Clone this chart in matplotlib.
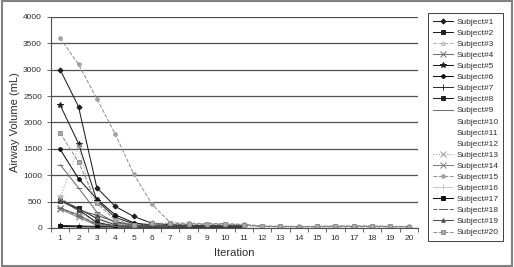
import numpy as np
import matplotlib
import matplotlib.pyplot as plt
from matplotlib.patches import Rectangle

matplotlib.use('agg')
plt.rcParams['font.family'] = ['Liberation Sans', 'DejaVu Sans']

nan = np.nan
iterations = list(range(1, 21))

# airway volume (mL) per subject; nan = no point drawn
s1 = [3000, 2300, 760, 410, 220, 90, 60, 50, 45, 40, 40] + [nan] * 9
s2 = [540, 370, 180, 60, 40, 30, 30, 30, 30, 30, 30] + [nan] * 9
s3 = [600, 300, 120, 50, 30, 25, 25] + [nan] * 13
s4 = [380, 250, 60, 30, 20, 20, 20] + [nan] * 13
s5 = [2330, 1600, 520, 200, 80, 40, 30, 30] + [nan] * 12
s6 = [1490, 935, 545, 250, 100, 50, 40, 40] + [nan] * 12
s7 = [50, 40, 30, 25, 20, 20, 20, 20, 20, 20, 20] + [nan] * 9
s8 = [520, 350, 100, 40, 30, 30, 25, 25] + [nan] * 12
s9 = [1200, 760, 300, 100, 50, 40, 40] + [nan] * 13
s10 = [nan] * 20
s11 = [nan] * 20
s12 = [nan] * 20
s13 = [560, 1550, 200, 60, 40, 30, 30] + [nan] * 13
s14 = [360, 200, 50, 30, 20, 20, 20, 20] + [nan] * 12
s15 = [3600, 3100, 2450, 1780, 1030, 450, 100, 90, 85, 80, 70,
       40, 35, 30, 30, 40, 40, 40, 30, 30]
s16 = [20, 15, 10, 10, 10, 10, 10, 10, 10, 10, 10] + [nan] * 9
s17 = [30, 25, 20, 20, 15, 15, 15, 15, 15, 15, 15] + [nan] * 9
s18 = [380, 230, 80, 40, 30, 60, 60, 60, 60, 60, 50,
       30, 25, 25, 25, 25, 25, 25, 25, 25]
s19 = [520, 340, 240, 120, 60, 40, 40, 40, 40, 40, 40] + [nan] * 9
s20 = [1800, 1250, 470, 150, 60, 90, 90, 80, 80, 80, 60,
       30, 30, 25, 30, 35, 35, 35, 30, 25]

subjects = [s1, s2, s3, s4, s5, s6, s7, s8, s9, s10,
            s11, s12, s13, s14, s15, s16, s17, s18, s19, s20]
labels = [f'Subject#{i}' for i in range(1, 21)]

# (color, linestyle, marker, markerfacecolor)
styles = [
    ('#202020', '-', 'D', '#202020'),
    ('#202020', '-', 's', '#202020'),
    ('#b0b0b0', '--', '^', 'white'),
    ('#707070', '-', 'x', '#707070'),
    ('#202020', '-', '*', '#202020'),
    ('#101010', '-', 'o', '#101010'),
    ('#303030', '-', '|', '#303030'),
    ('#202020', '-', 's', '#202020'),
    ('#707070', '-', '_', '#707070'),
    ('white', 'none', 'none', 'white'),
    ('white', 'none', 'none', 'white'),
    ('white', 'none', 'none', 'white'),
    ('#a0a0a0', ':', 'x', '#a0a0a0'),
    ('#808080', '-', 'x', '#808080'),
    ('#909090', '--', 'o', '#a0a0a0'),
    ('#c8c8c8', '-', '|', '#c8c8c8'),
    ('#101010', '-', 's', '#101010'),
    ('#606060', '--', '_', '#606060'),
    ('#505050', '-', '^', '#505050'),
    ('#909090', '--', 's', '#a8a8a8'),
]

fig = plt.figure(figsize=(5.14, 2.67), dpi=100)
ax = fig.add_axes([51 / 514, 1 - 228 / 267, 367 / 514, 211 / 267])

for vals, lab, (c, ls, m, mfc) in zip(subjects, labels, styles):
    msize = 4 if m in ('*', 'x', '|', '_') else 2.6
    ax.plot(iterations, vals, color=c, linestyle=ls, linewidth=0.75,
            marker=m, markersize=msize, markerfacecolor=mfc,
            markeredgecolor=c if m != 'o' else mfc, markeredgewidth=0.7,
            label=lab)

ax.set_xlim(0.5, 20.5)
ax.set_ylim(0, 4000)
ax.set_yticks(range(0, 4001, 500))
ax.set_xticks(iterations)
ax.set_xticks(np.arange(0.5, 21, 1), minor=True)
ax.tick_params(axis='x', which='major', length=0, labelsize=6, pad=5,
               labelcolor='#303030')
ax.tick_params(axis='x', which='minor', length=3, width=0.6, color='#505050')
ax.tick_params(axis='y', length=3, width=0.6, labelsize=6, color='#505050',
               labelcolor='#303030')
ax.yaxis.grid(True, color='#505050', linewidth=0.9)
ax.set_axisbelow(True)
for side in ('top', 'right'):
    ax.spines[side].set_visible(False)
for side in ('left', 'bottom'):
    ax.spines[side].set_color('#505050')
    ax.spines[side].set_linewidth(0.8)

ax.set_xlabel('Iteration', fontsize=8, labelpad=4, color='#303030')
ax.set_ylabel('Airway Volume (mL)', fontsize=8, labelpad=2, color='#303030')

leg = ax.legend(loc='upper left', bbox_to_anchor=(428 / 514, 1 - 13 / 267),
                bbox_transform=fig.transFigure, borderaxespad=0,
                fontsize=6, labelspacing=0.39, handlelength=2.4,
                handletextpad=0.4, borderpad=0.6, fancybox=False,
                edgecolor='#404040', framealpha=1)
leg.get_frame().set_linewidth(0.7)
for t in leg.get_texts():
    t.set_color('#303030')

# grey frame round the whole picture
fig.patches.append(Rectangle((0.003, 0.004), 0.994, 0.992, transform=fig.transFigure,
                             fill=False, edgecolor='#808080', linewidth=1.5))

fig.savefig('out.png', dpi=100)
